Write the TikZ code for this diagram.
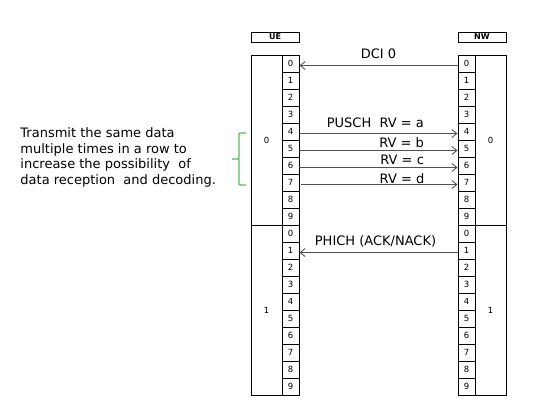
\documentclass[tikz,border=0pt]{standalone}
\usepackage{fontspec}
\setmainfont{DejaVu Sans}
\usetikzlibrary{arrows.meta}
\definecolor{msggray}{HTML}{505050}
\definecolor{bracegreen}{HTML}{5DB85D}
\begin{document}
\begin{tikzpicture}[x=1pt,y=-1pt,line width=0.9pt,>={Straight Barb[length=5pt,width=8pt]},
	cell/.style={draw,minimum width=17pt,minimum height=17pt,inner sep=0pt,font=\fontsize{8.5}{8.5}\selectfont},
	sframe/.style={draw,minimum width=31pt,minimum height=170pt,inner sep=0pt,font=\fontsize{8.5}{8.5}\selectfont},
	head/.style={draw,minimum width=48pt,minimum height=10pt,inner sep=0pt,font=\fontsize{8}{8}\selectfont\bfseries},
	msg/.style={draw=msggray,->},
	lab/.style={inner sep=0pt,font=\fontsize{13}{15.7}\selectfont}]
	\useasboundingbox (0,0) rectangle (541,414);
	\def\h{17}
	\def\ytop{55}
	\node[head] (ue) at (275,37) {UE};
	\node[head] (nw) at (482,37) {NW};
	\foreach \f in {0,1}{
		\node[sframe] (uef\f) at (266.5,{\ytop+85+170*\f}) {\f};
		\node[sframe] (nwf\f) at (490.5,{\ytop+85+170*\f}) {\f};
		\foreach \s in {0,...,9}{
			\node[cell] (ue\f-\s) at (290.5,{\ytop+\h*(10*\f+\s+0.5)}) {\s};
			\node[cell] (nw\f-\s) at (466.5,{\ytop+\h*(10*\f+\s+0.5)}) {\s};
		}
	}
	\draw[msg] ([yshift=-2pt]nw0-0.west) -- ([yshift=-2pt]ue0-0.east)
		node[lab,midway,above=6pt] {DCI 0};
	\foreach \s/\l/\g/\d in {4/{PUSCH\ \ RV = a}/5/0,5/{RV = b}/2/0,6/{RV = c}/2/0,7/{RV = d}/0/2}{
		\draw[msg] ([xshift=\d pt,yshift=-2pt]ue0-\s.east) -- ([yshift=-2pt]nw0-\s.west)
			node[lab,pos=0.79,anchor=south east,yshift=\g pt] {\l};
	}
	\draw[msg] ([yshift=-2pt]nw1-1.west) -- ([yshift=-2pt]ue1-1.east)
		node[lab,midway,above=5pt,xshift=-3pt] {PHICH (ACK/NACK)};
	\node[lab,align=left,anchor=north west] (note) at (20,127)
		{Transmit the same data\\multiple times in a row to\\increase the possibility\ \ of\\data reception\ \ and decoding.};
	\draw[bracegreen,line width=1.2pt,rounded corners=1pt] (246,133) -| (239,159) -- (232,159)
		(239,159) |- (246,185);
\end{tikzpicture}
\end{document}
